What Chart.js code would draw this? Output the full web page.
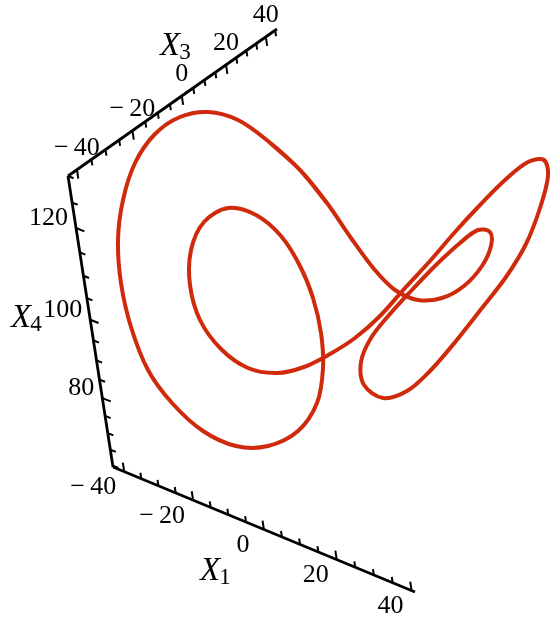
<!DOCTYPE html>
<html>
<head>
<meta charset="utf-8">
<style>
  html, body { margin: 0; padding: 0; background: #ffffff; overflow: hidden; }
  canvas { display: block; }
</style>
<script src="https://cdn.jsdelivr.net/npm/chart.js@4.4.1/dist/chart.umd.min.js"></script>
</head>
<body>
<canvas id="chart" width="550" height="623"></canvas>
<script>
// Projected trajectory in the viewing plane (h grows rightward, v grows downward).
// The orbit is closed: the path starts and ends on the same stretch so the
// spline has proper tangents where it joins.
const orbitH = [268, 300, 327, 351, 374, 395, 418, 442, 464, 482, 491, 490, 478, 460, 436, 412, 390, 371, 361, 364,
                383, 407, 430, 456, 482, 506, 526, 540, 548, 544, 528, 505, 480, 455, 430, 405, 380, 355, 330, 304,
                277, 248, 221, 200, 190, 191, 204, 228, 256, 281, 300, 313, 321, 323, 317, 298, 268, 236, 203, 172,
                148, 131, 121, 118, 123, 135, 155, 180, 208, 238, 268, 300, 327];
const orbitV = [141, 170, 203, 238, 269, 290, 300, 298, 286, 266, 246, 232, 230, 243, 265, 290, 314, 338, 362, 385,
                398, 391, 371, 341, 308, 277, 244, 208, 176, 160, 162, 180, 205, 232, 261, 288, 316, 338, 354, 367,
                373, 368, 349, 320, 285, 250, 222, 208, 215, 236, 266, 298, 333, 368, 403, 431, 446, 446, 431, 403,
                370, 327, 283, 240, 200, 163, 134, 117, 112, 120, 141, 170, 203];

// Labelled tick values on the three box edges
const x1Ticks = [-40, -20, 0, 20, 40];
const x1TickLabels = ["\u2212\u200940", "\u2212\u200920", "0", "20", "40"];
const x3Ticks = [-40, -20, 0, 20, 40];
const x3TickLabels = ["\u2212\u200940", "\u2212\u200920", "0", "20", "40"];
const x4Ticks = [80, 100, 120];
const x4TickLabels = ["80", "100", "120"];
const minorStep = 5;

// Box edges in the viewing plane; values run from lo at `from` to hi at `to`,
// `squeeze` models the perspective foreshortening along the edge.
const boxEdges = [
  { from: [113, 467], to: [415, 592], lo: -43.3, hi: 40.9, squeeze: 1.06,
    values: x1Ticks, labels: x1TickLabels, tickDir: [-0.15, -0.99],
    labelOff: [-21, 16], align: 'center', digitsCentered: true,
    title: 'X', sub: '1', titleAt: [200, 580] },
  { from: [68, 176], to: [277, 29], lo: -43, hi: 46, squeeze: 0.782,
    values: x3Ticks, labels: x3TickLabels, tickDir: [0.15, 0.99],
    labelOff: [0, -22], align: 'center', digitsCentered: false,
    title: 'X', sub: '3', titleAt: [160, 55] },
  { from: [68, 176], to: [113, 467], lo: 130, hi: 59.6, squeeze: 0.761,
    values: x4Ticks, labels: x4TickLabels, tickDir: [0.93, 0.37],
    labelOff: [-8, -10], align: 'right', digitsCentered: false,
    title: 'X', sub: '4', titleAt: [11, 327] }
];

const boxAxes = {
  id: 'boxAxes',
  beforeDatasetsDraw(chart) {
    const { ctx, scales: { x, y } } = chart;
    const px = p => [x.getPixelForValue(p[0]), y.getPixelForValue(p[1])];
    boxEdges.forEach(e => {
      const A = px(e.from), B = px(e.to);
      const at = v => {
        const t = (v - e.lo) / (e.hi - e.lo);
        const s = t / (t + e.squeeze * (1 - t));
        return [A[0] + (B[0] - A[0]) * s, A[1] + (B[1] - A[1]) * s];
      };
      ctx.save();
      ctx.strokeStyle = '#000';
      ctx.lineWidth = 2.8;
      ctx.beginPath(); ctx.moveTo(A[0], A[1]); ctx.lineTo(B[0], B[1]); ctx.stroke();
      ctx.lineWidth = 2;
      const vMin = Math.min(e.lo, e.hi), vMax = Math.max(e.lo, e.hi);
      for (let v = Math.ceil(vMin / minorStep) * minorStep; v <= vMax; v += minorStep) {
        const len = e.values.includes(v) ? 9 : 6;
        const p = at(v);
        ctx.beginPath();
        ctx.moveTo(p[0], p[1]);
        ctx.lineTo(p[0] + e.tickDir[0] * len, p[1] + e.tickDir[1] * len);
        ctx.stroke();
      }
      ctx.fillStyle = '#000';
      ctx.font = '26px "Liberation Serif", "DejaVu Serif", serif';
      ctx.textBaseline = 'middle';
      e.values.forEach((v, i) => {
        const p = at(v);
        const lx = p[0] + e.labelOff[0], ly = p[1] + e.labelOff[1];
        const label = e.labels[i];
        if (e.digitsCentered) {
          // centre the digits on the tick; a leading minus hangs to the left
          const digits = label.replace(/^\u2212\u2009?/, '');
          ctx.textAlign = 'right';
          ctx.fillText(label, lx + ctx.measureText(digits).width / 2, ly);
        } else {
          ctx.textAlign = e.align;
          ctx.fillText(label, lx, ly);
        }
      });
      const T = px(e.titleAt);
      ctx.textAlign = 'left';
      ctx.textBaseline = 'alphabetic';
      ctx.font = 'italic 33px "Liberation Serif", "DejaVu Serif", serif';
      ctx.fillText(e.title, T[0], T[1]);
      const w = ctx.measureText(e.title).width;
      ctx.font = '23px "Liberation Serif", "DejaVu Serif", serif';
      ctx.fillText(e.sub, T[0] + w - 1, T[1] + 4);
      ctx.restore();
    });
  }
};

new Chart(document.getElementById('chart'), {
  type: 'scatter',
  data: {
    datasets: [{
      data: orbitH.map((h, i) => ({ x: h, y: orbitV[i] })),
      showLine: true,
      borderColor: '#cf2a0c',
      borderWidth: 4,
      tension: 0.33,
      pointRadius: 0,
      fill: false
    }]
  },
  options: {
    responsive: false,
    animation: false,
    layout: { padding: 0 },
    plugins: { legend: { display: false }, tooltip: { enabled: false } },
    scales: {
      x: { type: 'linear', min: 0, max: 550, display: false },
      y: { type: 'linear', min: 0, max: 623, reverse: true, display: false }
    }
  },
  plugins: [boxAxes]
});
</script>
</body>
</html>
